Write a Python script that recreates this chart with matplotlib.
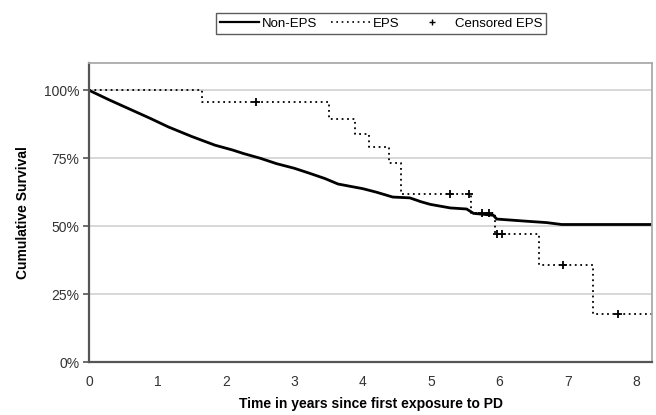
import numpy as np
import matplotlib
matplotlib.use("Agg")
import matplotlib.pyplot as plt
from matplotlib.lines import Line2D

plt.rcParams['font.family'] = ['Liberation Sans', 'DejaVu Sans']

### Non-EPS curve
t_non = [0, 0.3, 0.6, 0.9, 1.16, 1.5, 1.84, 2.1, 2.26, 2.5, 2.74, 3.0, 3.23, 3.45,
         3.64, 3.85, 4.0, 4.2, 4.44, 4.69, 4.85, 4.99, 5.28, 5.52, 5.62, 5.91,
         5.96, 6.4, 6.69, 6.91, 8.23]
s_non = [100, 96.4, 93, 89.6, 86.5, 83, 79.8, 78, 76.7, 75, 73, 71.3, 69.4, 67.5,
         65.5, 64.5, 63.8, 62.5, 60.7, 60.4, 59, 58, 56.7, 56.3, 54.7, 54,
         52.6, 51.8, 51.3, 50.6, 50.6]

### EPS step curve
t_eps = [0, 1.65, 3.51, 3.89, 4.10, 4.38, 4.56, 5.58, 5.94, 6.58, 7.37, 8.23]
s_eps = [100, 95.5, 89.6, 83.8, 79.2, 73.3, 61.9, 55.0, 47.2, 35.6, 17.8, 17.8]

### censored EPS
t_cens = [2.44, 5.27, 5.55, 5.75, 5.85, 5.97, 6.03, 6.93, 7.74]
s_cens = [95.5, 61.9, 61.9, 55.0, 55.0, 47.2, 47.2, 35.6, 17.8]

fig = plt.figure(figsize=(6.56, 4.15), dpi=100)
ax = fig.add_axes([0.1357, 0.1277, 0.8582, 0.7203])

ax.plot(t_non, s_non, color='black', lw=2.0, solid_joinstyle='miter')
ax.plot(t_eps, s_eps, color='black', lw=1.3, ls=(0, (1, 2.0)), drawstyle='steps-post')
ax.plot(t_cens, s_cens, ls='none', marker='+', color='black', ms=6, mew=1.3)

ax.set_xlim(0, 8.23)
ax.set_ylim(0, 110)
ax.set_xticks(range(9))
ax.set_yticks([0, 25, 50, 75, 100])
ax.set_yticklabels(['0%', '25%', '50%', '75%', '100%'])
ax.tick_params(axis='x', length=0, pad=9, labelsize=10, colors='#333333')
ax.tick_params(axis='y', length=4, width=1.2, color='#555555', pad=3,
               labelsize=10, labelcolor='#333333')
ax.grid(axis='y', color='#d4d4d4', lw=1.3)
ax.set_axisbelow(True)

for s in ['left', 'bottom']:
    ax.spines[s].set_color('#555555')
    ax.spines[s].set_linewidth(1.6)
for s in ['top', 'right']:
    ax.spines[s].set_color('#aaaaaa')
    ax.spines[s].set_linewidth(1.3)

ax.set_xlabel('Time in years since first exposure to PD', fontsize=10,
              fontweight='bold', labelpad=6)
ax.set_ylabel('Cumulative Survival', fontsize=10, fontweight='bold', labelpad=10)

handles = [Line2D([], [], color='black', lw=1.6),
           Line2D([], [], color='black', lw=1.2, ls=(0, (1, 2.2))),
           Line2D([], [], color='black', ls='none', marker='+', ms=4, mew=1)]
leg = fig.legend(handles, ['Non-EPS', 'EPS', 'Censored EPS'], loc='center',
                 bbox_to_anchor=(381 / 656, 1 - 23.5 / 415), ncol=3, fontsize=9.5,
                 frameon=True, fancybox=False, handlelength=3.0, handletextpad=0.2,
                 columnspacing=1.0, borderpad=0.3)
leg.get_frame().set_edgecolor('#333333')
leg.get_frame().set_linewidth(1.0)

fig.savefig('out.png', dpi=100)
